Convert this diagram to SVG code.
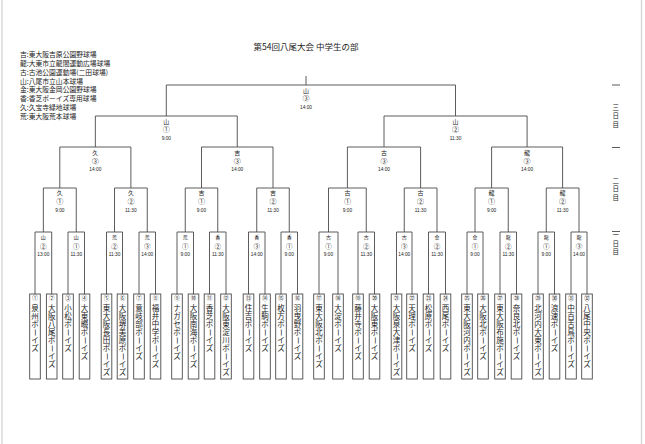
<svg xmlns="http://www.w3.org/2000/svg" width="645" height="444" viewBox="0 0 645 444">
<style>
text{font-family:"Noto Sans CJK JP","Noto Sans",sans-serif;fill:#222}
.ln{fill:none;stroke:#4a4a4a;stroke-width:0.9}
.bx{fill:#fff;stroke:#4a4a4a;stroke-width:0.9}
.edge{stroke:#d9d9d9;stroke-width:1.5}
.ttl{font-size:8.5px;text-anchor:middle;dominant-baseline:central}
.lg{font-size:6.8px;dominant-baseline:central}
.v{font-size:6px;text-anchor:middle;dominant-baseline:central}
.c{font-size:7px;text-anchor:middle;dominant-baseline:central}
.t{font-family:"Liberation Sans",Arial,sans-serif;font-size:4.8px;text-anchor:middle;dominant-baseline:central}
.v1{font-size:5px;text-anchor:middle;dominant-baseline:central}
.c1{font-size:6.5px;text-anchor:middle;dominant-baseline:central}
.no{font-size:5.5px;text-anchor:middle;dominant-baseline:central}
.nm{font-size:7.5px;transform:translate(0px,0.6px)}
.day{font-size:6.5px}
</style>
<line class="edge" x1="2" y1="0" x2="2" y2="444"/>
<line class="edge" x1="641.5" y1="0" x2="641.5" y2="444"/>
<g id="title"><text class="ttl" x="306" y="46">第54回八尾大会 中学生の部</text></g>
<g id="legend">
<text class="lg" x="20" y="54">吉:東大阪吉原公園野球場</text>
<text class="lg" x="20" y="62.8">龍:大東市立龍間運動広場球場</text>
<text class="lg" x="20" y="71.6">古:古池公園運動場(二田球場)</text>
<text class="lg" x="20" y="80.5">山:八尾市立山本球場</text>
<text class="lg" x="20" y="89.3">金:東大阪金岡公園野球場</text>
<text class="lg" x="20" y="98.2">香:香芝ボーイズ専用球場</text>
<text class="lg" x="20" y="107">久:久宝寺緑地球場</text>
<text class="lg" x="20" y="116">荒:東大阪荒本球場</text>
</g>
<g id="days">
<line class="ln" x1="612" y1="85" x2="620" y2="85"/>
<line class="ln" x1="612" y1="147.5" x2="620" y2="147.5"/>
<line class="ln" x1="612" y1="231.5" x2="620" y2="231.5"/>
<text class="day" x="612.45 612.45 612.45" y="109.5 118 126.5">三日目</text>
<text class="day" x="612.45 612.45 612.45" y="182.5 191 199.5">二日目</text>
<text class="day" x="612.45 612.45 612.45" y="237 245.5 254">一日目</text>
</g>
<g id="connectors">
<path class="ln" d="M306 76V85"/>
<path class="ln" d="M166.3 116V85H455.5V116"/>
<path class="ln" d="M95.35 147V116H237.25V147M384 147V116H527.1V147"/>
<path class="ln" d="M59.8 188V147H130.9V188M201.5 188V147H273V188M347.4 188V147H420.6V188M491.6 188V147H562.6V188"/>
<path class="ln" d="M43.35 232V188H76.25V232M114.5 232V188H147.25V232M185.25 232V188H217.75V232M256.75 232V188H289.25V232M328.5 232V188H366.25V232M404.25 232V188H437V232M475 232V188H508.25V232M546.25 232V188H579V232"/>
<path class="ln" d="M35 294V232H51.7V294M68 294V232H84.5V294M106.5 294V232H122.5V294M139 294V232H155.5V294M177 294V232H193.5V294M209.5 294V232H226V294M248.5 294V232H265V294M281 294V232H297.5V294M319 294V232H338V294M358 294V232H374.5V294M396.5 294V232H412V294M428.5 294V232H445.5V294M467 294V232H483V294M500 294V232H516.5V294M538 294V232H554.5V294M571 294V232H587V294"/>
</g>
<g id="match-final"><text class="v" x="306" y="90">山</text><text class="c" x="306" y="98">③</text><text class="t" x="306" y="107">14:00</text></g>
<g id="match-sf1"><text class="v" x="166.3" y="121">山</text><text class="c" x="166.3" y="129">①</text><text class="t" x="166.3" y="138">9:00</text></g>
<g id="match-sf2"><text class="v" x="455.5" y="121">山</text><text class="c" x="455.5" y="129">②</text><text class="t" x="455.5" y="138">11:30</text></g>
<g id="match-qf1"><text class="v" x="95.35" y="152">久</text><text class="c" x="95.35" y="160.5">③</text><text class="t" x="95.35" y="169.5">14:00</text></g>
<g id="match-qf2"><text class="v" x="237.25" y="152">吉</text><text class="c" x="237.25" y="160.5">③</text><text class="t" x="237.25" y="169.5">14:00</text></g>
<g id="match-qf3"><text class="v" x="384" y="152">古</text><text class="c" x="384" y="160.5">③</text><text class="t" x="384" y="169.5">14:00</text></g>
<g id="match-qf4"><text class="v" x="527.1" y="152">龍</text><text class="c" x="527.1" y="160.5">③</text><text class="t" x="527.1" y="169.5">14:00</text></g>
<g id="match-r2-1"><text class="v" x="59.8" y="192.5">久</text><text class="c" x="59.8" y="201">①</text><text class="t" x="59.8" y="210">9:00</text></g>
<g id="match-r2-2"><text class="v" x="130.9" y="192.5">久</text><text class="c" x="130.9" y="201">②</text><text class="t" x="130.9" y="210">11:30</text></g>
<g id="match-r2-3"><text class="v" x="201.5" y="192.5">吉</text><text class="c" x="201.5" y="201">①</text><text class="t" x="201.5" y="210">9:00</text></g>
<g id="match-r2-4"><text class="v" x="273" y="192.5">吉</text><text class="c" x="273" y="201">②</text><text class="t" x="273" y="210">11:30</text></g>
<g id="match-r2-5"><text class="v" x="347.4" y="192.5">古</text><text class="c" x="347.4" y="201">①</text><text class="t" x="347.4" y="210">9:00</text></g>
<g id="match-r2-6"><text class="v" x="420.6" y="192.5">古</text><text class="c" x="420.6" y="201">②</text><text class="t" x="420.6" y="210">11:30</text></g>
<g id="match-r2-7"><text class="v" x="491.6" y="192.5">龍</text><text class="c" x="491.6" y="201">①</text><text class="t" x="491.6" y="210">9:00</text></g>
<g id="match-r2-8"><text class="v" x="562.6" y="192.5">龍</text><text class="c" x="562.6" y="201">②</text><text class="t" x="562.6" y="210">11:30</text></g>
<g id="match-r1-1"><text class="v1" x="43.35" y="236.7">山</text><text class="c1" x="43.35" y="245.5">②</text><text class="t" x="43.35" y="254.3">13:00</text></g>
<g id="match-r1-2"><text class="v1" x="76.25" y="236.7">山</text><text class="c1" x="76.25" y="245.5">①</text><text class="t" x="76.25" y="254.3">11:30</text></g>
<g id="match-r1-3"><text class="v1" x="114.5" y="236.7">荒</text><text class="c1" x="114.5" y="245.5">②</text><text class="t" x="114.5" y="254.3">11:30</text></g>
<g id="match-r1-4"><text class="v1" x="147.25" y="236.7">荒</text><text class="c1" x="147.25" y="245.5">③</text><text class="t" x="147.25" y="254.3">14:00</text></g>
<g id="match-r1-5"><text class="v1" x="185.25" y="236.7">荒</text><text class="c1" x="185.25" y="245.5">①</text><text class="t" x="185.25" y="254.3">9:00</text></g>
<g id="match-r1-6"><text class="v1" x="217.75" y="236.7">香</text><text class="c1" x="217.75" y="245.5">②</text><text class="t" x="217.75" y="254.3">11:30</text></g>
<g id="match-r1-7"><text class="v1" x="256.75" y="236.7">香</text><text class="c1" x="256.75" y="245.5">③</text><text class="t" x="256.75" y="254.3">14:00</text></g>
<g id="match-r1-8"><text class="v1" x="289.25" y="236.7">香</text><text class="c1" x="289.25" y="245.5">①</text><text class="t" x="289.25" y="254.3">9:00</text></g>
<g id="match-r1-9"><text class="v1" x="328.5" y="236.7">古</text><text class="c1" x="328.5" y="245.5">①</text><text class="t" x="328.5" y="254.3">9:00</text></g>
<g id="match-r1-10"><text class="v1" x="366.25" y="236.7">古</text><text class="c1" x="366.25" y="245.5">②</text><text class="t" x="366.25" y="254.3">11:30</text></g>
<g id="match-r1-11"><text class="v1" x="404.25" y="236.7">古</text><text class="c1" x="404.25" y="245.5">③</text><text class="t" x="404.25" y="254.3">14:00</text></g>
<g id="match-r1-12"><text class="v1" x="437" y="236.7">金</text><text class="c1" x="437" y="245.5">②</text><text class="t" x="437" y="254.3">11:30</text></g>
<g id="match-r1-13"><text class="v1" x="475" y="236.7">金</text><text class="c1" x="475" y="245.5">①</text><text class="t" x="475" y="254.3">9:00</text></g>
<g id="match-r1-14"><text class="v1" x="508.25" y="236.7">龍</text><text class="c1" x="508.25" y="245.5">②</text><text class="t" x="508.25" y="254.3">11:30</text></g>
<g id="match-r1-15"><text class="v1" x="546.25" y="236.7">龍</text><text class="c1" x="546.25" y="245.5">①</text><text class="t" x="546.25" y="254.3">9:00</text></g>
<g id="match-r1-16"><text class="v1" x="579" y="236.7">龍</text><text class="c1" x="579" y="245.5">③</text><text class="t" x="579" y="254.3">14:00</text></g>
<g id="team-1" transform="translate(35 0)"><rect class="bx" x="-5.3" y="294" width="10.6" height="85"/><text class="no" x="0" y="298.3">①</text><text class="nm" x="-3.75 -3.75 -3.75 -2.85 -3.75 -3.75" y="310.85 318.85 326.85 328.25 342.85 350.85" rotate="0 0 0 90 0 0">泉州ボーイズ</text></g>
<g id="team-2" transform="translate(51.7 0)"><rect class="bx" x="-5.3" y="294" width="10.6" height="85"/><text class="no" x="0" y="298.3">②</text><text class="nm" x="-3.75 -3.75 -3.75 -3.75 -3.75 -2.85 -3.75 -3.75" y="310.85 318.85 326.85 334.85 342.85 344.25 358.85 366.85" rotate="0 0 0 0 0 90 0 0">大阪八尾ボーイズ</text></g>
<g id="team-3" transform="translate(68 0)"><rect class="bx" x="-5.3" y="294" width="10.6" height="85"/><text class="no" x="0" y="298.3">③</text><text class="nm" x="-3.75 -3.75 -3.75 -2.85 -3.75 -3.75" y="310.85 318.85 326.85 328.25 342.85 350.85" rotate="0 0 0 90 0 0">小松ボーイズ</text></g>
<g id="team-4" transform="translate(84.5 0)"><rect class="bx" x="-5.3" y="294" width="10.6" height="85"/><text class="no" x="0" y="298.3">④</text><text class="nm" x="-3.75 -3.75 -3.75 -3.75 -2.85 -3.75 -3.75" y="310.85 318.85 326.85 334.85 336.25 350.85 358.85" rotate="0 0 0 0 90 0 0">大東畷ボーイズ</text></g>
<g id="team-5" transform="translate(106.5 0)"><rect class="bx" x="-5.3" y="294" width="10.6" height="85"/><text class="no" x="0" y="298.3">⑤</text><text class="nm" x="-3.75 -3.75 -3.75 -3.75 -3.75 -3.75 -2.85 -3.75 -3.75" y="310.85 318.85 326.85 334.85 342.85 350.85 352.25 366.85 374.85" rotate="0 0 0 0 0 0 90 0 0">東大阪長田ボーイズ</text></g>
<g id="team-6" transform="translate(122.5 0)"><rect class="bx" x="-5.3" y="294" width="10.6" height="85"/><text class="no" x="0" y="298.3">⑥</text><text class="nm" x="-3.75 -3.75 -3.75 -3.75 -3.75 -3.75 -2.85 -3.75 -3.75" y="310.85 318.85 326.85 334.85 342.85 350.85 352.25 366.85 374.85" rotate="0 0 0 0 0 0 90 0 0">大阪堺美原ボーイズ</text></g>
<g id="team-7" transform="translate(139 0)"><rect class="bx" x="-5.3" y="294" width="10.6" height="85"/><text class="no" x="0" y="298.3">⑦</text><text class="nm" x="-3.75 -3.75 -3.75 -3.75 -2.85 -3.75 -3.75" y="310.85 318.85 326.85 334.85 336.25 350.85 358.85" rotate="0 0 0 0 90 0 0">意岐部ボーイズ</text></g>
<g id="team-8" transform="translate(155.5 0)"><rect class="bx" x="-5.3" y="294" width="10.6" height="85"/><text class="no" x="0" y="298.3">⑧</text><text class="nm" x="-3.75 -3.75 -3.75 -3.75 -3.75 -2.85 -3.75 -3.75" y="310.85 318.85 326.85 334.85 342.85 344.25 358.85 366.85" rotate="0 0 0 0 0 90 0 0">福井中学ボーイズ</text></g>
<g id="team-9" transform="translate(177 0)"><rect class="bx" x="-5.3" y="294" width="10.6" height="85"/><text class="no" x="0" y="298.3">⑨</text><text class="nm" x="-3.75 -3.75 -3.75 -3.75 -2.85 -3.75 -3.75" y="310.85 318.85 326.85 334.85 336.25 350.85 358.85" rotate="0 0 0 0 90 0 0">ナガセボーイズ</text></g>
<g id="team-10" transform="translate(193.5 0)"><rect class="bx" x="-5.3" y="294" width="10.6" height="85"/><text class="no" x="0" y="298.3">⑩</text><text class="nm" x="-3.75 -3.75 -3.75 -3.75 -3.75 -2.85 -3.75 -3.75" y="310.85 318.85 326.85 334.85 342.85 344.25 358.85 366.85" rotate="0 0 0 0 0 90 0 0">大阪南海ボーイズ</text></g>
<g id="team-11" transform="translate(209.5 0)"><rect class="bx" x="-5.3" y="294" width="10.6" height="85"/><text class="no" x="0" y="298.3">⑪</text><text class="nm" x="-3.75 -3.75 -3.75 -2.85 -3.75 -3.75" y="310.85 318.85 326.85 328.25 342.85 350.85" rotate="0 0 0 90 0 0">香芝ボーイズ</text></g>
<g id="team-12" transform="translate(226 0)"><rect class="bx" x="-5.3" y="294" width="10.6" height="85"/><text class="no" x="0" y="298.3">⑫</text><text class="nm" x="-3.75 -3.75 -3.75 -3.75 -3.75 -3.75 -2.85 -3.75 -3.75" y="310.85 318.85 326.85 334.85 342.85 350.85 352.25 366.85 374.85" rotate="0 0 0 0 0 0 90 0 0">大阪東淀川ボーイズ</text></g>
<g id="team-13" transform="translate(248.5 0)"><rect class="bx" x="-5.3" y="294" width="10.6" height="85"/><text class="no" x="0" y="298.3">⑬</text><text class="nm" x="-3.75 -3.75 -3.75 -2.85 -3.75 -3.75" y="310.85 318.85 326.85 328.25 342.85 350.85" rotate="0 0 0 90 0 0">住吉ボーイズ</text></g>
<g id="team-14" transform="translate(265 0)"><rect class="bx" x="-5.3" y="294" width="10.6" height="85"/><text class="no" x="0" y="298.3">⑭</text><text class="nm" x="-3.75 -3.75 -3.75 -2.85 -3.75 -3.75" y="310.85 318.85 326.85 328.25 342.85 350.85" rotate="0 0 0 90 0 0">生駒ボーイズ</text></g>
<g id="team-15" transform="translate(281 0)"><rect class="bx" x="-5.3" y="294" width="10.6" height="85"/><text class="no" x="0" y="298.3">⑮</text><text class="nm" x="-3.75 -3.75 -3.75 -2.85 -3.75 -3.75" y="310.85 318.85 326.85 328.25 342.85 350.85" rotate="0 0 0 90 0 0">枚方ボーイズ</text></g>
<g id="team-16" transform="translate(297.5 0)"><rect class="bx" x="-5.3" y="294" width="10.6" height="85"/><text class="no" x="0" y="298.3">⑯</text><text class="nm" x="-3.75 -3.75 -3.75 -3.75 -2.85 -3.75 -3.75" y="310.85 318.85 326.85 334.85 336.25 350.85 358.85" rotate="0 0 0 0 90 0 0">羽曳野ボーイズ</text></g>
<g id="team-17" transform="translate(319 0)"><rect class="bx" x="-5.3" y="294" width="10.6" height="85"/><text class="no" x="0" y="298.3">⑰</text><text class="nm" x="-3.75 -3.75 -3.75 -3.75 -3.75 -2.85 -3.75 -3.75" y="310.85 318.85 326.85 334.85 342.85 344.25 358.85 366.85" rotate="0 0 0 0 0 90 0 0">東大阪北ボーイズ</text></g>
<g id="team-18" transform="translate(338 0)"><rect class="bx" x="-5.3" y="294" width="10.6" height="85"/><text class="no" x="0" y="298.3">⑱</text><text class="nm" x="-3.75 -3.75 -3.75 -2.85 -3.75 -3.75" y="310.85 318.85 326.85 328.25 342.85 350.85" rotate="0 0 0 90 0 0">大淀ボーイズ</text></g>
<g id="team-19" transform="translate(358 0)"><rect class="bx" x="-5.3" y="294" width="10.6" height="85"/><text class="no" x="0" y="298.3">⑲</text><text class="nm" x="-3.75 -3.75 -3.75 -3.75 -2.85 -3.75 -3.75" y="310.85 318.85 326.85 334.85 336.25 350.85 358.85" rotate="0 0 0 0 90 0 0">藤井寺ボーイズ</text></g>
<g id="team-20" transform="translate(374.5 0)"><rect class="bx" x="-5.3" y="294" width="10.6" height="85"/><text class="no" x="0" y="298.3">⑳</text><text class="nm" x="-3.75 -3.75 -3.75 -3.75 -2.85 -3.75 -3.75" y="310.85 318.85 326.85 334.85 336.25 350.85 358.85" rotate="0 0 0 0 90 0 0">大阪東ボーイズ</text></g>
<g id="team-21" transform="translate(396.5 0)"><rect class="bx" x="-5.3" y="294" width="10.6" height="85"/><text class="no" x="0" y="298.3">㉑</text><text class="nm" x="-3.75 -3.75 -3.75 -3.75 -3.75 -3.75 -2.85 -3.75 -3.75" y="310.85 318.85 326.85 334.85 342.85 350.85 352.25 366.85 374.85" rotate="0 0 0 0 0 0 90 0 0">大阪泉大津ボーイズ</text></g>
<g id="team-22" transform="translate(412 0)"><rect class="bx" x="-5.3" y="294" width="10.6" height="85"/><text class="no" x="0" y="298.3">㉒</text><text class="nm" x="-3.75 -3.75 -3.75 -2.85 -3.75 -3.75" y="310.85 318.85 326.85 328.25 342.85 350.85" rotate="0 0 0 90 0 0">天理ボーイズ</text></g>
<g id="team-23" transform="translate(428.5 0)"><rect class="bx" x="-5.3" y="294" width="10.6" height="85"/><text class="no" x="0" y="298.3">㉓</text><text class="nm" x="-3.75 -3.75 -3.75 -2.85 -3.75 -3.75" y="310.85 318.85 326.85 328.25 342.85 350.85" rotate="0 0 0 90 0 0">松原ボーイズ</text></g>
<g id="team-24" transform="translate(445.5 0)"><rect class="bx" x="-5.3" y="294" width="10.6" height="85"/><text class="no" x="0" y="298.3">㉔</text><text class="nm" x="-3.75 -3.75 -3.75 -2.85 -3.75 -3.75" y="310.85 318.85 326.85 328.25 342.85 350.85" rotate="0 0 0 90 0 0">西尾ボーイズ</text></g>
<g id="team-25" transform="translate(467 0)"><rect class="bx" x="-5.3" y="294" width="10.6" height="85"/><text class="no" x="0" y="298.3">㉕</text><text class="nm" x="-3.75 -3.75 -3.75 -3.75 -3.75 -3.75 -2.85 -3.75 -3.75" y="310.85 318.85 326.85 334.85 342.85 350.85 352.25 366.85 374.85" rotate="0 0 0 0 0 0 90 0 0">東大阪河内ボーイズ</text></g>
<g id="team-26" transform="translate(483 0)"><rect class="bx" x="-5.3" y="294" width="10.6" height="85"/><text class="no" x="0" y="298.3">㉖</text><text class="nm" x="-3.75 -3.75 -3.75 -3.75 -2.85 -3.75 -3.75" y="310.85 318.85 326.85 334.85 336.25 350.85 358.85" rotate="0 0 0 0 90 0 0">大阪北ボーイズ</text></g>
<g id="team-27" transform="translate(500 0)"><rect class="bx" x="-5.3" y="294" width="10.6" height="85"/><text class="no" x="0" y="298.3">㉗</text><text class="nm" x="-3.75 -3.75 -3.75 -3.75 -3.75 -3.75 -2.85 -3.75 -3.75" y="310.85 318.85 326.85 334.85 342.85 350.85 352.25 366.85 374.85" rotate="0 0 0 0 0 0 90 0 0">東大阪布施ボーイズ</text></g>
<g id="team-28" transform="translate(516.5 0)"><rect class="bx" x="-5.3" y="294" width="10.6" height="85"/><text class="no" x="0" y="298.3">㉘</text><text class="nm" x="-3.75 -3.75 -3.75 -3.75 -2.85 -3.75 -3.75" y="310.85 318.85 326.85 334.85 336.25 350.85 358.85" rotate="0 0 0 0 90 0 0">奈良北ボーイズ</text></g>
<g id="team-29" transform="translate(538 0)"><rect class="bx" x="-5.3" y="294" width="10.6" height="85"/><text class="no" x="0" y="298.3">㉙</text><text class="nm" x="-3.75 -3.75 -3.75 -3.75 -3.75 -3.75 -2.85 -3.75 -3.75" y="310.85 318.85 326.85 334.85 342.85 350.85 352.25 366.85 374.85" rotate="0 0 0 0 0 0 90 0 0">北河内大東ボーイズ</text></g>
<g id="team-30" transform="translate(554.5 0)"><rect class="bx" x="-5.3" y="294" width="10.6" height="85"/><text class="no" x="0" y="298.3">㉚</text><text class="nm" x="-3.75 -3.75 -3.75 -2.85 -3.75 -3.75" y="310.85 318.85 326.85 328.25 342.85 350.85" rotate="0 0 0 90 0 0">浪速ボーイズ</text></g>
<g id="team-31" transform="translate(571 0)"><rect class="bx" x="-5.3" y="294" width="10.6" height="85"/><text class="no" x="0" y="298.3">㉛</text><text class="nm" x="-3.75 -3.75 -3.75 -3.75 -3.75 -2.85 -3.75 -3.75" y="310.85 318.85 326.85 334.85 342.85 344.25 358.85 366.85" rotate="0 0 0 0 0 90 0 0">中百舌鳥ボーイズ</text></g>
<g id="team-32" transform="translate(587 0)"><rect class="bx" x="-5.3" y="294" width="10.6" height="85"/><text class="no" x="0" y="298.3">㉜</text><text class="nm" x="-3.75 -3.75 -3.75 -3.75 -3.75 -2.85 -3.75 -3.75" y="310.85 318.85 326.85 334.85 342.85 344.25 358.85 366.85" rotate="0 0 0 0 0 90 0 0">八尾中央ボーイズ</text></g>
</svg>
